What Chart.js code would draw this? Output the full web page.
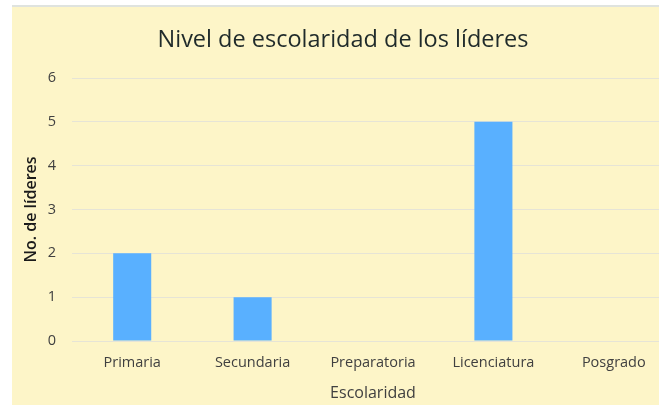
<!DOCTYPE html>
<html>
<head>
<meta charset="utf-8">
<script src="https://cdn.jsdelivr.net/npm/chart.js@4"></script>
<style>
  html, body { margin: 0; padding: 0; background: #ffffff; overflow: hidden; width: 659px; height: 405px; }
  #topline { position: absolute; left: 12px; top: 5px; width: 700px; height: 2px; background: #dfe3df; }
  #box { position: absolute; left: 12px; top: 7px; width: 662px; height: 398px; background: #fdf5c8; }
  canvas { display: block; }
</style>
</head>
<body>
<div id="topline"></div>
<div id="box"><canvas id="c" width="662" height="398"></canvas></div>
<script>
const categories = ['Primaria', 'Secundaria', 'Preparatoria', 'Licenciatura', 'Posgrado'];
const lideres = [2, 1, 0, 5, 0];
const yTicks = [0, 1, 2, 3, 4, 5, 6];
const chartTitle = 'Nivel de escolaridad de los líderes';
const xTitle = 'Escolaridad';
const yTitle = 'No. de líderes';

const FONT = "'Open Sans', 'Noto Sans', sans-serif";

new Chart(document.getElementById('c'), {
  type: 'bar',
  data: {
    labels: categories,
    datasets: [{
      data: lideres,
      backgroundColor: '#59b0ff',
      borderWidth: 0,
      barPercentage: 0.316,
      categoryPercentage: 1
    }]
  },
  options: {
    responsive: false,
    animation: false,
    layout: { padding: 0 },
    plugins: {
      legend: { display: false },
      tooltip: { enabled: false },
      title: {
        display: true,
        text: chartTitle,
        color: '#1f2a2a',
        font: { family: FONT, size: 23.5, weight: 'normal', lineHeight: 1.2 },
        padding: { top: 19, bottom: 23.8 }
      }
    },
    scales: {
      x: {
        grid: { display: false, drawTicks: false },
        border: { display: false },
        ticks: { color: '#404040', font: { family: FONT, size: 14.5 }, padding: 13, maxRotation: 0, autoSkip: false },
        title: {
          display: true, text: xTitle, color: '#404040',
          font: { family: FONT, size: 16, lineHeight: 1.2 },
          padding: { top: 0, bottom: 2 }
        },
        afterFit: s => { s.height = 64; }
      },
      y: {
        min: 0, max: 6,
        afterBuildTicks: s => { s.ticks = yTicks.map(v => ({ value: v })); },
        grid: { color: '#e6e4d6', lineWidth: 1, drawTicks: false },
        border: { display: false },
        ticks: { color: '#404040', font: { family: FONT, size: 14.5 }, padding: 16 },
        title: {
          display: true, text: yTitle, color: '#1a1a1a',
          font: { family: FONT, size: 16, weight: '600', lineHeight: 1.2 },
          padding: { top: 10, bottom: 0 }
        },
        afterFit: s => { s.width = 60; }
      }
    }
  }
});
</script>
</body>
</html>
